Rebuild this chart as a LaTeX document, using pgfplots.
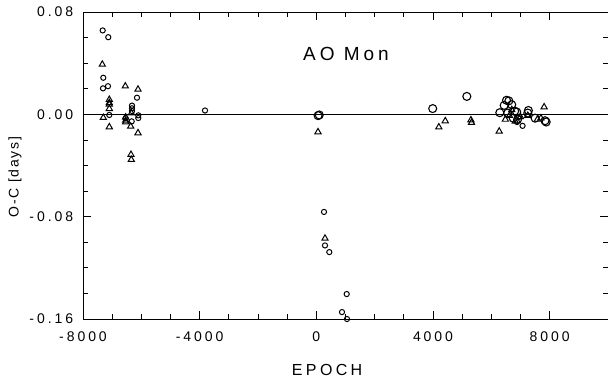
\documentclass[border=0pt]{standalone}
\usepackage{pgfplots}
\pgfplotsset{compat=1.18}
\usepackage{fontspec}
\setmainfont{Liberation Sans}[LetterSpace=21]
\newfontfamily\ylfont{Liberation Sans}[LetterSpace=12]

\begin{document}
\fontsize{14bp}{16bp}\selectfont
\begin{tikzpicture}
\path[use as bounding box] (-83bp,-64bp) rectangle (525bp,319bp);
\begin{axis}[
  at={(0,0)}, anchor=south west,
  scale only axis, width=525bp, height=307bp,
  xmin=-8000, xmax=10000, ymin=-0.16, ymax=0.08,
  xtick={-8000,-4000,0,4000,8000}, minor x tick num=3,
  ytick={-0.16,-0.08,0,0.08}, minor y tick num=3,
  scaled y ticks=false, scaled x ticks=false,
  /pgf/number format/assume math mode=true,
  /pgf/number format/1000 sep={},
  yticklabel style={/pgf/number format/fixed, /pgf/number format/fixed zerofill, /pgf/number format/precision=2, xshift=-5bp},
  xticklabel style={yshift=-8bp},
  tick align=inside, major tick length=8bp, minor tick length=5bp,
  every tick/.style={black, line width=0.8pt},
  axis line style={line width=0.8pt},
  xlabel={EPOCH}, ylabel={\ylfont O-C [days]},
  xlabel style={at={(axis description cs:0.465,-0.165)}, anchor=center, font=\fontsize{16bp}{18bp}\selectfont},
  ylabel style={at={(axis description cs:-0.1295,0.4625)}, anchor=center},
  clip=false,
]
\addplot[black, line width=0.8pt, forget plot] coordinates {(-8000,0) (10000,0)};
% small circles
\addplot[only marks, mark=o, mark size=2.6bp, black, mark options={line width=1pt}] coordinates {
(-7325,0.0656) (-7133,0.0603) (-7304,0.0286) (-7314,0.0203) (-7143,0.0220)
(-6149,0.0130) (-7098,-0.0005) (-6320,0.0068) (-6320,0.0047) (-6320,0.0026)
(-6330,-0.0055) (-6104,-0.0008) (-6104,-0.0029) (-6540,-0.0030)
(-3817,0.0030)
(263,-0.0763) (297,-0.1025) (445,-0.1077) (1041,-0.1405) (880,-0.1546) (1051,-0.1600)
(7070,-0.0090) (6880,-0.0060) (6950,-0.0020)
};
% big circles
\addplot[only marks, mark=o, mark size=4bp, black, mark options={line width=1.1pt}] coordinates {
(60,-0.0010) (100,-0.0005)
(3990,0.0045) (5160,0.0140)
(6290,0.0013) (6440,0.0070) (6520,0.0110) (6600,0.0105) (6700,0.0075)
(6800,0.0025) (6870,0.0018) (6560,0.0010) (6750,-0.0030) (7270,0.0030)
(7250,0.0010) (7500,-0.0030) (7840,-0.0050) (7880,-0.0060) (6900,-0.0040)
};
% triangles
\addplot[only marks, mark=triangle, mark size=3.6bp, black, mark options={line width=1pt}] coordinates {
(-7338,0.0390) (-6550,0.0220) (-6114,0.0195) (-7098,0.0115) (-7098,0.0090)
(-7098,0.0078) (-7098,0.0044) (-7304,-0.0026) (-7098,-0.0099) (-6536,-0.0023)
(-6536,-0.0047) (-6536,-0.0060) (-6340,0.0010) (-6365,-0.0094) (-6114,-0.0146)
(-6354,-0.0315) (-6344,-0.0354)
(57,-0.0138) (297,-0.0970)
(4200,-0.0100) (4420,-0.0052) (5300,-0.0045) (5320,-0.0065) (6270,-0.0133)
(6480,-0.0040) (6620,-0.0010) (6700,0.0035) (6820,-0.0055) (7000,-0.0020)
(7250,-0.0010) (7580,-0.0040) (7810,0.0057) (7700,-0.0030)
};
\node[font=\fontsize{19bp}{21bp}\selectfont] at (axis cs:1017,0.047) {AO Mon};
\end{axis}
\end{tikzpicture}
\end{document}
